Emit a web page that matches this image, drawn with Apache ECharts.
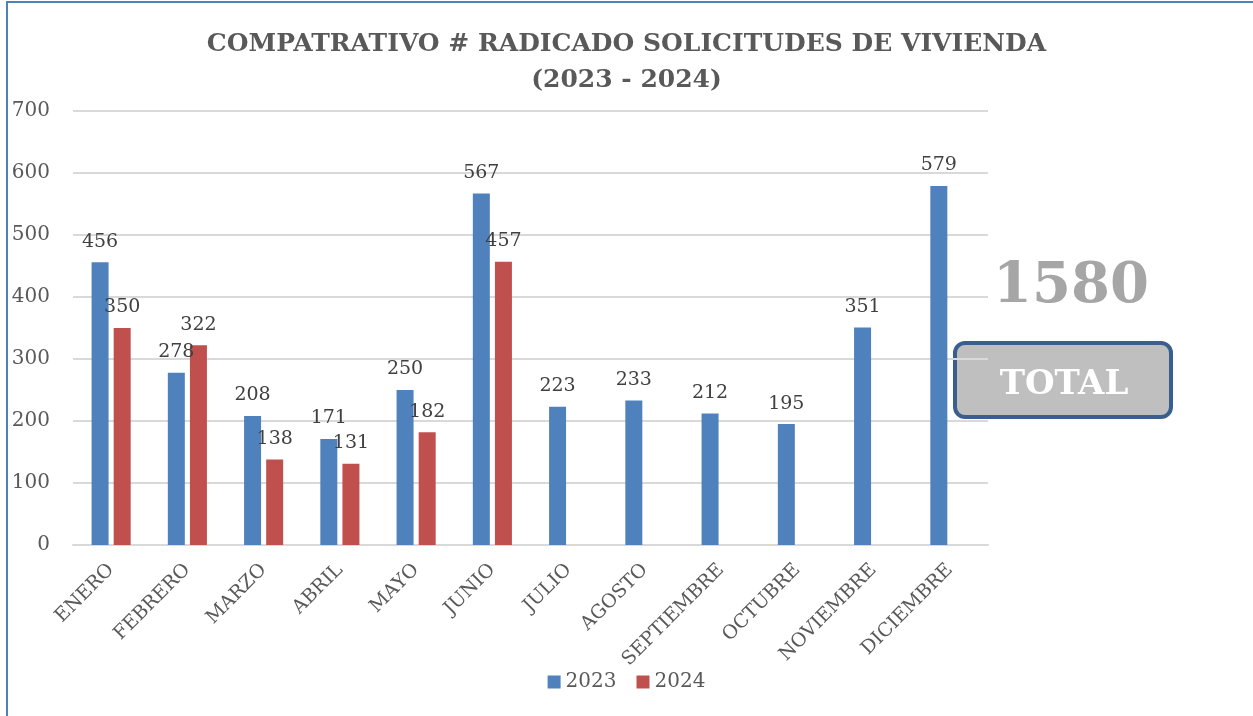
<!DOCTYPE html>
<html>
<head>
<meta charset="utf-8">
<script src="https://cdn.jsdelivr.net/npm/echarts@6/dist/echarts.min.js"></script>
<style>
  html, body { margin: 0; padding: 0; background: #fff; }
  #main { width: 1253px; height: 716px; }
</style>
</head>
<body>
<div id="main"></div>
<script>
// datos del grafico
var months = ['ENERO', 'FEBRERO', 'MARZO', 'ABRIL', 'MAYO', 'JUNIO', 'JULIO', 'AGOSTO', 'SEPTIEMBRE', 'OCTUBRE', 'NOVIEMBRE', 'DICIEMBRE']
var values2023 = [456, 278, 208, 171, 250, 567, 223, 233, 212, 195, 351, 579]
var values2024 = [350, 322, 138, 131, 182, 457, null, null, null, null, null, null]
var totalText = '1580'

var serif = 'DejaVu Serif'
var label = {
  show: true,
  position: 'top',
  distance: 11,
  color: '#404040',
  fontFamily: serif,
  fontSize: 19
}

var myChart = echarts.init(document.getElementById('main'))
myChart.setOption({
  animation: false,
  title: {
    text: 'COMPATRATIVO # RADICADO SOLICITUDES DE VIVIENDA\n(2023 - 2024)',
    left: 'center',
    top: 21,
    textStyle: {
      fontFamily: serif,
      fontWeight: 'bold',
      fontSize: 25,
      color: '#595959',
      lineHeight: 36
    }
  },
  legend: {
    bottom: 19,
    left: 'center',
    itemWidth: 13,
    itemHeight: 13,
    itemGap: 20,
    icon: 'rect',
    textStyle: { fontFamily: serif, fontSize: 20, color: '#595959' },
    data: ['2023', '2024']
  },
  grid: {
    left: 73,
    right: 265,
    top: 111,
    bottom: 171
  },
  xAxis: {
    type: 'category',
    data: months,
    axisLine: { lineStyle: { color: '#d9d9d9', width: 2 } },
    axisTick: { show: false },
    axisLabel: {
      rotate: 45,
      interval: 0,
      margin: 22,
      fontFamily: serif,
      fontSize: 19,
      color: '#595959'
    }
  },
  yAxis: {
    type: 'value',
    min: 0,
    max: 700,
    interval: 100,
    axisLine: { show: false },
    axisTick: { show: false },
    axisLabel: {
      margin: 23,
      fontFamily: serif,
      fontSize: 20,
      color: '#595959'
    },
    splitLine: { lineStyle: { color: '#d9d9d9', width: 2 } }
  },
  series: [
    {
      name: '2023',
      type: 'bar',
      barWidth: 17,
      barGap: '30%',
      data: values2023,
      label: label,
      itemStyle: { color: '#4f81bd' }
    },
    {
      name: '2024',
      type: 'bar',
      barWidth: 17,
      data: values2024,
      label: label,
      itemStyle: { color: '#c0504d' }
    }
  ],
  graphic: [
    {
      type: 'rect',
      silent: true,
      shape: { x: 7, y: 2, width: 1400, height: 900 },
      style: { fill: 'none', stroke: '#4f81bd', lineWidth: 2 }
    },
    {
      type: 'text',
      left: 993,
      top: 259,
      style: {
        text: totalText,
        fontFamily: serif,
        fontWeight: 'bold',
        fontSize: 56,
        fill: '#a6a6a6'
      }
    },
    {
      type: 'rect',
      shape: { x: 955, y: 343, width: 216, height: 74, r: 10 },
      style: { fill: '#bfbfbf', stroke: '#3a5f8f', lineWidth: 4 }
    },
    {
      type: 'text',
      x: 1064,
      y: 385,
      style: {
        text: 'TOTAL',
        align: 'center',
        verticalAlign: 'middle',
        fontFamily: serif,
        fontWeight: 'bold',
        fontSize: 34,
        fill: '#ffffff'
      }
    }
  ]
})
</script>
</body>
</html>
